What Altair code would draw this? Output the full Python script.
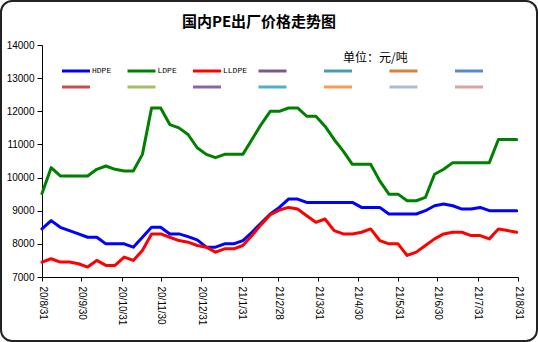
import altair as alt
import pandas as pd

# ---- data ----
dates = [d.strftime("%Y-%m-%d") for d in pd.date_range("2020-08-31", periods=53, freq="7D")]

hdpe = [8450, 8700, 8500, 8400, 8300, 8200, 8200, 8000, 8000, 8000,
        7900, 8200, 8500, 8500, 8300, 8300, 8220, 8120, 7900, 7900,
        8000, 8000, 8100, 8350, 8630, 8900, 9100, 9350, 9350, 9250,
        9250, 9250, 9250, 9250, 9250, 9100, 9100, 9100, 8900, 8900,
        8900, 8900, 9000, 9150, 9200, 9150, 9050, 9050, 9100, 9000,
        9000, 9000, 9000]
ldpe = [9520, 10300, 10050, 10050, 10050, 10050, 10250, 10350, 10250, 10200,
        10200, 10700, 12100, 12100, 11600, 11500, 11300, 10900, 10700, 10600,
        10700, 10700, 10700, 11150, 11600, 12000, 12000, 12100, 12100, 11850,
        11850, 11550, 11150, 10800, 10400, 10400, 10400, 9900, 9500, 9500,
        9300, 9300, 9400, 10100, 10250, 10450, 10450, 10450, 10450, 10450,
        11150, 11150, 11150]
lldpe = [7450, 7550, 7450, 7450, 7400, 7300, 7500, 7350, 7350, 7600,
         7500, 7800, 8300, 8300, 8200, 8100, 8050, 7950, 7900, 7750,
         7850, 7850, 7950, 8250, 8580, 8880, 9020, 9100, 9050, 8850,
         8650, 8750, 8400, 8300, 8300, 8350, 8450, 8100, 8000, 8000,
         7650, 7750, 7950, 8150, 8300, 8350, 8350, 8250, 8250, 8150,
         8450, 8400, 8350]

series_names = ["HDPE", "LDPE", "LLDPE", "s4", "s5", "s6", "s7",
                "s8", "s9", "s10", "s11", "s12", "s13", "s14"]
series_colors = ["#0000FF", "#008000", "#FF0000", "#775A8C", "#4A9AB2", "#D6823A", "#5A8BC8",
                 "#C4504E", "#A2C062", "#8668A8", "#4DB2C9", "#F89B50", "#ABBCDB", "#DAA2A1"]

tick_dates = ["2020-08-31", "2020-09-30", "2020-10-31", "2020-11-30", "2020-12-31",
              "2021-01-31", "2021-02-28", "2021-03-31", "2021-04-30", "2021-05-31",
              "2021-06-30", "2021-07-31", "2021-08-31"]
y_ticks = [7000, 8000, 9000, 10000, 11000, 12000, 13000, 14000]

title_text = "国内PE出厂价格走势图"
unit_text = "单位：元/吨"

# ---- build table ----
rows = []
for name, vals in (("HDPE", hdpe), ("LDPE", ldpe), ("LLDPE", lldpe)):
    for d, v in zip(dates, vals):
        rows.append({"date": d, "price": v, "series": name})
df = pd.DataFrame(rows)


def dt(s):
    y, m, d = (int(p) for p in s.split("-"))
    return alt.DateTime(year=y, month=m, date=d, utc=True)


tick_values = [dt(s) for s in tick_dates]

lines = alt.Chart(df).mark_line(strokeWidth=3, strokeJoin="round", strokeCap="round").encode(
    x=alt.X("date:T",
            scale=alt.Scale(type="utc", domain=[dt(tick_dates[0]), dt(tick_dates[-1])]),
            axis=alt.Axis(values=tick_values, title=None,
                          labelExpr="utcFormat(datum.value, '%y/%-m/%-d')",
                          labelAngle=90, labelAlign="left", labelBaseline="middle",
                          labelOverlap=False, labelFlush=False,
                          tickSize=4, labelPadding=5)),
    y=alt.Y("price:Q",
            scale=alt.Scale(domain=[7000, 14000], nice=False, zero=False),
            axis=alt.Axis(values=y_ticks, title=None, format="d", tickSize=5, labelPadding=3)),
    color=alt.Color("series:N",
                    scale=alt.Scale(domain=series_names, range=series_colors),
                    legend=alt.Legend(orient="none", legendX=29, legendY=21,
                                      direction="horizontal",
                                      columns=7, gridAlign="all", title=None,
                                      symbolType="M-4,0H4", symbolSize=49,
                                      symbolStrokeWidth=3, padding=0,
                                      labelFont="Liberation Mono", labelFontSize=8,
                                      labelColor="black", labelOffset=11,
                                      columnPadding=4.5, rowPadding=4,
                                      labelExpr="length(datum.label) > 3 ? datum.label : ''")),
)

title = alt.Chart(pd.DataFrame({"t": [title_text]})).mark_text(
    align="center", baseline="middle", fontSize=15, fontWeight="bold",
    font="Noto Sans CJK SC", color="black"
).encode(x=alt.value(217), y=alt.value(-23), text="t:N")

unit = alt.Chart(pd.DataFrame({"t": [unit_text]})).mark_text(
    align="left", baseline="middle", fontSize=12, font="Noto Sans CJK SC", color="black"
).encode(x=alt.value(301), y=alt.value(13), text="t:N")

frame = alt.Chart(pd.DataFrame({"t": [0]})).mark_rect(
    filled=False, stroke="#222222", strokeWidth=2, cornerRadius=11
).encode(x=alt.value(-41), x2=alt.value(495), y=alt.value(-44), y2=alt.value(296))

chart = alt.layer(lines, title, unit, frame).properties(
    width=476, height=232,
    padding={"left": 42, "top": 45, "right": 20, "bottom": 65},
    autosize=alt.AutoSizeParams(type="none"),
).configure_view(strokeWidth=0).configure_axis(
    grid=False, domainColor="black", tickColor="black", labelColor="black",
    labelFont="Liberation Sans", labelFontSize=10
)

chart.save("out.html", embed_options={"renderer": "svg", "actions": False})
